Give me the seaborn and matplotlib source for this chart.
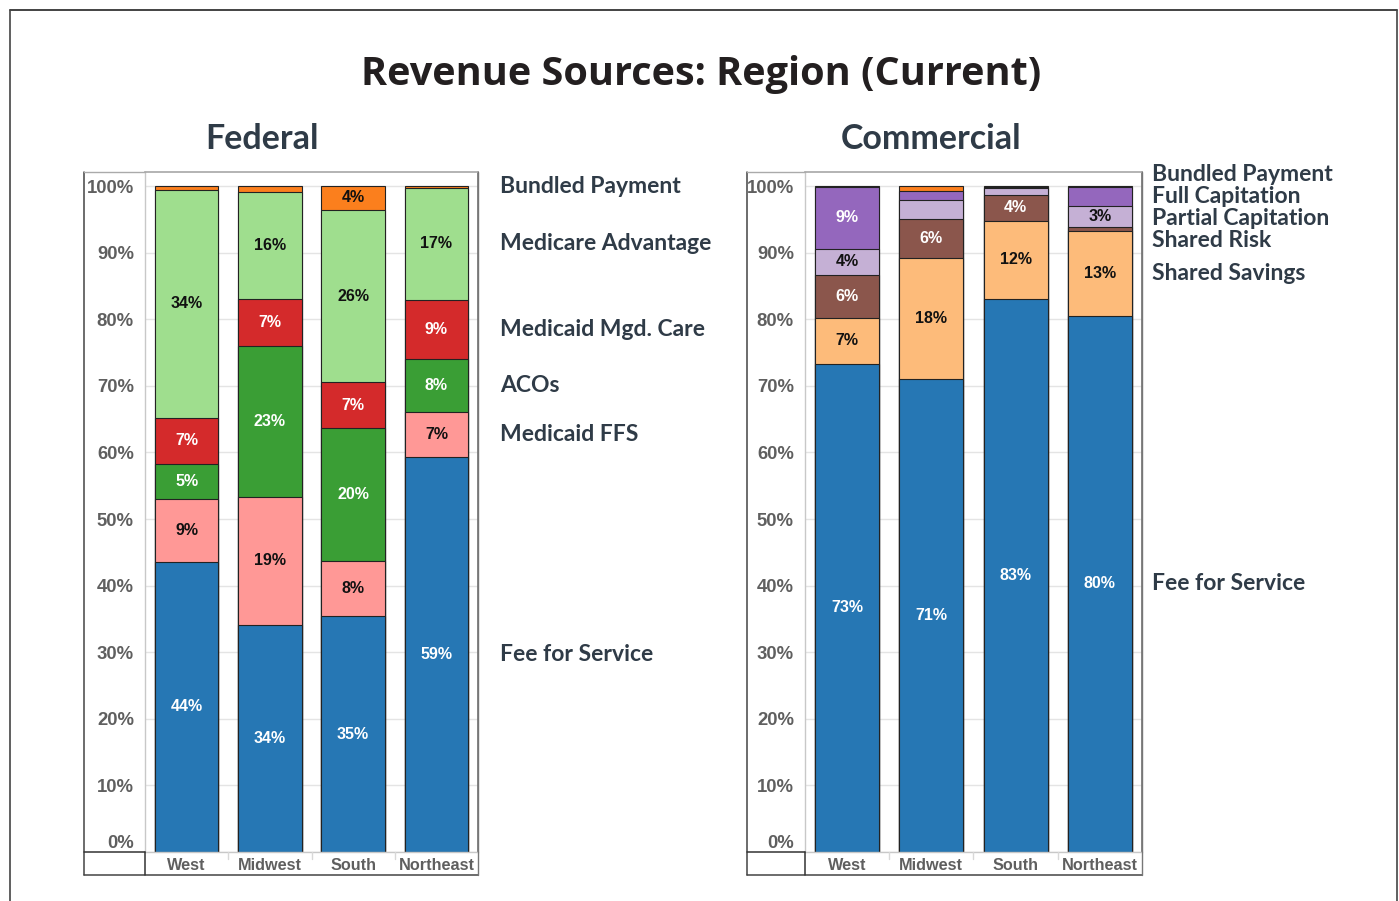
import matplotlib
matplotlib.use("Agg")
import matplotlib.pyplot as plt
from matplotlib.lines import Line2D
import seaborn as sns
import pandas as pd

# ---------------- data ----------------
regions = ["West", "Midwest", "South", "Northeast"]

# Federal (bottom -> top)
fed_categories = ["Fee for Service", "Medicaid FFS", "ACOs", "Medicaid Mgd. Care",
                  "Medicare Advantage", "Bundled Payment"]
fed_ffs = [43.6, 34.1, 35.4, 59.3]
fed_medicaid_ffs = [9.4, 19.2, 8.3, 6.8]
fed_acos = [5.3, 22.7, 20.0, 7.9]
fed_medicaid_mgd = [6.9, 7.0, 6.8, 8.9]
fed_medicare_adv = [34.2, 16.1, 25.9, 16.8]
fed_bundled = [0.6, 0.9, 3.6, 0.3]

# Commercial (bottom -> top)
com_categories = ["Fee for Service", "Shared Savings", "Shared Risk", "Partial Capitation",
                  "Full Capitation", "Bundled Payment"]
com_ffs = [73.3, 71.0, 83.0, 80.5]
com_shared_savings = [6.9, 18.2, 11.8, 12.7]
com_shared_risk = [6.4, 5.9, 3.9, 0.6]
com_partial_cap = [4.0, 2.8, 1.0, 3.2]
com_full_cap = [9.3, 1.4, 0.1, 2.8]
com_bundled = [0.1, 0.7, 0.2, 0.2]

y_ticks = [0, 10, 20, 30, 40, 50, 60, 70, 80, 90, 100]
y_tick_labels = [f"{t}%" for t in y_ticks]

fed_values = [fed_ffs, fed_medicaid_ffs, fed_acos, fed_medicaid_mgd, fed_medicare_adv, fed_bundled]
com_values = [com_ffs, com_shared_savings, com_shared_risk, com_partial_cap, com_full_cap, com_bundled]

# ---------------- styles ----------------
fed_colors = ["#2677b4", "#ff9896", "#3a9e35", "#d42a2b", "#9fde8e", "#fb7f1d"]
fed_text = ["white", "#111111", "white", "white", "#111111", "#111111"]
com_colors = ["#2677b4", "#fdbb7a", "#8b564c", "#c5b0d5", "#9467bd", "#fb7f1d"]
com_text = ["white", "#111111", "white", "#111111", "white", "#111111"]

W, H = 1399, 901
sns.set_theme(style="white")
plt.rcParams["font.family"] = ["Liberation Sans", "DejaVu Sans"]

fig = plt.figure(figsize=(W / 100, H / 100), dpi=100)


def fx(px):
    return px / W


def fy(py):
    return 1 - py / H


def fig_line(x0, y0, x1, y1, color="#555555", lw=1.0):
    fig.add_artist(Line2D([fx(x0), fx(x1)], [fy(y0), fy(y1)], transform=fig.transFigure,
                          color=color, lw=lw, zorder=10))


# outer border of the whole image
fig_line(10, 10, 1397, 10, "#222222", 1.2)
fig_line(10, 10, 10, 901, "#444444", 1.2)
fig_line(1397, 10, 1397, 901, "#444444", 1.2)

TITLE_FONT = ["Open Sans", "Noto Sans", "DejaVu Sans"]
LEG_FONT = ["Lato", "Open Sans", "DejaVu Sans"]
LABEL_COLOR = "#2f3b47"

fig.text(fx(701), fy(75), "Revenue Sources: Region (Current)", ha="center", va="center",
         fontsize=28.5, fontweight="bold", color="#231f20", family=TITLE_FONT)


def panel(frame_l, plot_l, plot_r, subtitle, sub_x, categories, values, colors, tcolors, legend_x):
    top, bottom, label_bottom = 172, 852, 875
    ax = fig.add_axes([fx(plot_l), fy(bottom), fx(plot_r) - fx(plot_l), fy(top) - fy(bottom)])
    ymax = 100 + (852 - 172 - 666) * 100 / 666
    df = pd.DataFrame({"Region": regions})
    cums = []
    running = [0.0] * len(regions)
    for vals in values:
        running = [r + v for r, v in zip(running, vals)]
        cums.append(list(running))
    # draw from the top segment down so each lower cumulative bar overlays
    for i in reversed(range(len(categories))):
        df["cum"] = cums[i]
        sns.barplot(data=df, x="Region", y="cum", order=regions, color=colors[i],
                    saturation=1, width=0.76, edgecolor="#222222", linewidth=0.8,
                    errorbar=None, ax=ax, zorder=3)
    # segment labels
    for i, vals in enumerate(values):
        for j, v in enumerate(vals):
            if v >= 3:
                mid = cums[i][j] - v / 2
                ax.text(j, mid, f"{round(v)}%", ha="center", va="center", fontsize=11.5,
                        fontweight="bold", color=tcolors[i], zorder=5)
    ax.set_ylim(0, ymax)
    ax.set_xlim(-0.5, len(regions) - 0.5)
    ax.set_yticks(y_ticks)
    ax.set_yticklabels(y_tick_labels)
    ax.set_xlabel("")
    ax.set_ylabel("")
    ax.yaxis.grid(True, color="#e4e4e4", lw=1.0, zorder=0)
    ax.xaxis.grid(False)
    ax.set_axisbelow(True)
    ax.tick_params(axis="y", length=0, pad=8, labelsize=13.3, labelcolor="#5f5f5f")
    ax.tick_params(axis="x", length=0, pad=4, labelsize=11.7, labelcolor="#5f5f5f")
    for lab in ax.get_yticklabels() + ax.get_xticklabels():
        lab.set_fontweight("bold")
    # keep the 0% label inside the frame, like the original
    ax.get_yticklabels()[0].set_va("bottom")
    for s in ["left", "bottom"]:
        ax.spines[s].set_color("#c8c8c8")
        ax.spines[s].set_linewidth(1.0)
    ax.spines["top"].set_color("#aaaaaa")
    ax.spines["right"].set_color("#777777")
    for s in ax.spines.values():
        s.set_zorder(6)
    # frame around ticks/label areas
    fig_line(frame_l, top, frame_l, label_bottom, "#444444", 1.1)
    fig_line(frame_l, label_bottom, plot_r, label_bottom, "#444444", 1.1)
    fig_line(plot_r, top, plot_r, label_bottom, "#777777", 1.0)
    fig_line(frame_l, top, plot_l, top, "#aaaaaa", 1.0)
    fig_line(frame_l, bottom, plot_l, bottom, "#333333", 1.1)
    fig_line(plot_l, bottom, plot_l, label_bottom, "#333333", 1.1)
    # light separators in the label row
    cat_w = (plot_r - plot_l) / len(regions)
    for k in range(1, len(regions)):
        xs = plot_l + k * cat_w
        fig_line(xs, bottom, xs, bottom + 7, "#d8d8d8", 1.0)

    # subtitle
    fig.text(fx(sub_x), fy(139), subtitle, ha="center", va="center", fontsize=24.5,
             fontweight="bold", color=LABEL_COLOR, family=LEG_FONT)

    # right-hand labels at last bar's segment midpoints, spread to avoid overlap
    last = len(regions) - 1
    pos = [cums[i][last] - values[i][last] / 2 for i in range(len(categories))]
    gap = 3.3
    for _ in range(300):
        for i in range(len(pos) - 1):
            d = pos[i + 1] - pos[i]
            if d < gap:
                push = (gap - d) / 2
                pos[i] -= push
                pos[i + 1] += push
    ax_x = (legend_x - plot_l) / (plot_r - plot_l)
    for i, cat in enumerate(categories):
        ax.text(ax_x, pos[i], cat, transform=ax.get_yaxis_transform(), ha="left", va="center",
                fontsize=16.5, fontweight="bold", color=LABEL_COLOR, family=LEG_FONT,
                clip_on=False)
    return ax


panel(84, 145, 478, "Federal", 262, fed_categories, fed_values, fed_colors, fed_text, 500)
panel(747, 805, 1142, "Commercial", 931, com_categories, com_values, com_colors, com_text, 1152)

fig.savefig("out.png", dpi=100)
